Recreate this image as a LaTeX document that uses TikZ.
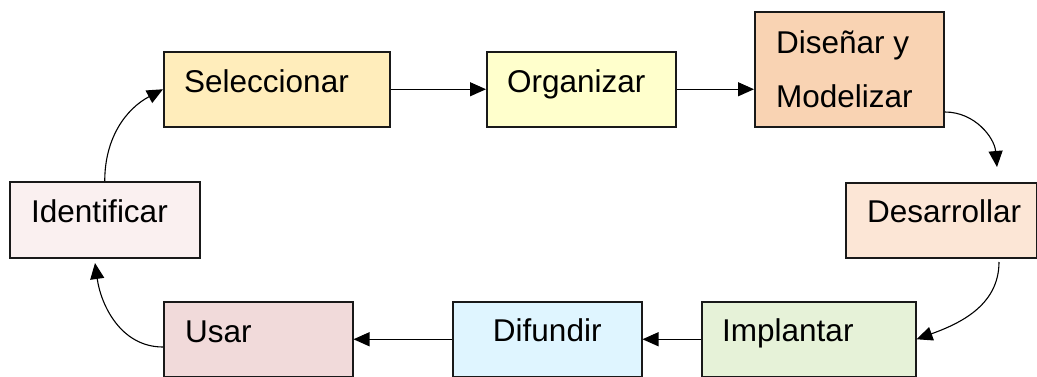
\documentclass[tikz,border=0pt]{standalone}
\usepackage{fontspec}
\setmainfont{Liberation Sans}
\usetikzlibrary{arrows.meta,calc}

\definecolor{cSel}{HTML}{FFEDBB}
\definecolor{cOrg}{HTML}{FFFFCC}
\definecolor{cDis}{HTML}{F9D3B3}
\definecolor{cDes}{HTML}{FCE6D6}
\definecolor{cImp}{HTML}{E6F2D8}
\definecolor{cDif}{HTML}{DFF5FF}
\definecolor{cUsa}{HTML}{F1DADA}
\definecolor{cIde}{HTML}{FAF0F0}

\tikzset{
  stage/.style={draw=black!90, line width=1.5pt, rectangle, inner sep=0pt, anchor=north west},
  lbl/.style={font=\fontsize{31.5}{36}\selectfont, inner sep=0pt, anchor=base west},
  flow/.style={line width=1.1pt, -{Triangle[length=16pt,width=14pt]}},
}

\begin{document}
\begin{tikzpicture}[x=1pt,y=1pt]
  \useasboundingbox (0,0) rectangle (1037,-376);

  % stage boxes (top-left corner, width, height)
  \node[stage, fill=cSel, minimum width=226, minimum height=75] (sel) at (163,-51) {};
  \node[stage, fill=cOrg, minimum width=189, minimum height=75] (org) at (486,-51) {};
  \node[stage, fill=cDis, minimum width=189, minimum height=115] (dis) at (754,-11) {};
  \node[stage, fill=cDes, minimum width=191, minimum height=75] (des) at (845,-182) {};
  \node[stage, fill=cImp, minimum width=214, minimum height=75] (imp) at (701,-301) {};
  \node[stage, fill=cDif, minimum width=189, minimum height=75] (dif) at (452,-301) {};
  \node[stage, fill=cUsa, minimum width=189, minimum height=75] (usa) at (163,-301) {};
  \node[stage, fill=cIde, minimum width=190, minimum height=76] (ide) at (9,-181) {};

  % stage labels
  \node[lbl] (selt) at ($(sel.north west)+(21,-41)$) {Seleccionar};
  \node[lbl] (orgt) at ($(org.north west)+(21,-41)$) {Organizar};
  \node[lbl] (dist1) at ($(dis.north west)+(22,-42)$) {Diseñar y};
  \node[lbl] (dist2) at ($(dis.north west)+(22,-96)$) {Modelizar};
  \node[lbl] (dest) at ($(des.north west)+(22,-40)$) {Desarrollar};
  \node[lbl] (impt) at ($(imp.north west)+(21,-40)$) {Implantar};
  \node[lbl, anchor=base] (dift) at ($(dif.north)+(0,-40)$) {Difundir};
  \node[lbl] (usat) at ($(usa.north west)+(22,-41)$) {Usar};
  \node[lbl] (idet) at ($(ide.north west)+(22,-41)$) {Identificar};

  % free ends of the curved connectors
  \coordinate (disout) at (945,-112);
  \coordinate (desin) at (997,-167);
  \coordinate (desout) at (999,-262);
  \coordinate (idein) at (95,-263);
  \coordinate (usaout) at (163,-347);

  % connectors
  \draw[flow] (ide.north) to[out=90, in=208] (sel.west);
  \draw[flow] (sel.east) -- (org.west);
  \draw[flow] (org.east) -- (org.east -| dis.west);
  \draw[flow] (disout) to[out=0, in=95] (desin);
  \draw[flow] (desout) to[out=-90, in=20] (imp.east);
  \draw[flow] (imp.west) -- (dif.east);
  \draw[flow] (dif.west) -- (usa.east);
  \draw[flow] (usaout) to[out=180, in=-82] (idein);
\end{tikzpicture}
\end{document}
